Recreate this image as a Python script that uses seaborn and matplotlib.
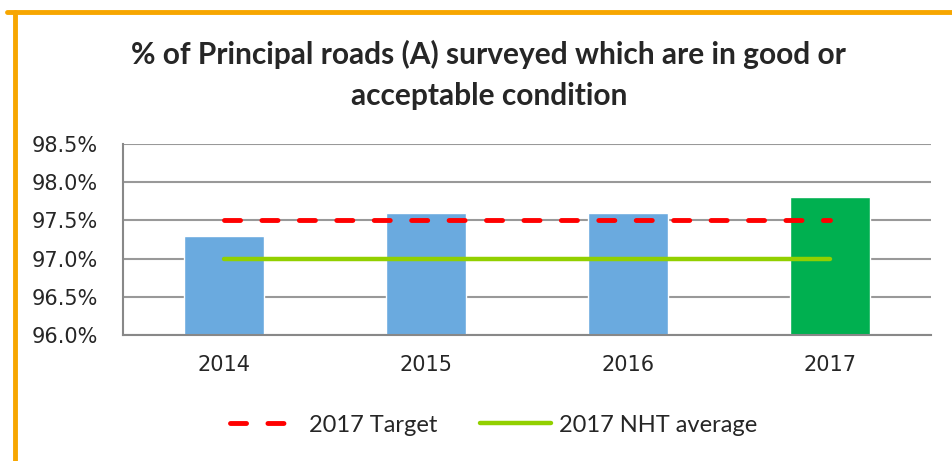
import numpy as np
import matplotlib.pyplot as plt
import seaborn as sns
from matplotlib.lines import Line2D

years = ['2014', '2015', '2016', '2017']
pct_good = [97.3, 97.6, 97.6, 97.8]
target_2017 = [97.5, 97.5, 97.5, 97.5]
nht_avg_2017 = [97.0, 97.0, 97.0, 97.0]
bar_colors = ['#6AAADF', '#6AAADF', '#6AAADF', '#00B050']
y_ticks = [96.0, 96.5, 97.0, 97.5, 98.0, 98.5]

sns.set_theme(style="white")
plt.rcParams['font.family'] = ['DejaVu Sans']

fig = plt.figure(figsize=(9.53, 4.61), dpi=100)
ax = fig.add_axes([0.129, 0.273, 0.848, 0.415])

sns.barplot(x=years, y=pct_good, hue=years, palette=bar_colors, width=0.4,
            legend=False, saturation=1, ax=ax, zorder=2)

pos = np.arange(len(years))
ax.plot(pos, target_2017, color='#FF0000', lw=3.5, dashes=(3.3, 4.4),
        dash_capstyle='round', solid_capstyle='round', zorder=4, label='2017 Target')
ax.plot(pos, nht_avg_2017, color='#92D000', lw=3.2, solid_capstyle='round',
        zorder=3, label='2017 NHT average')

ax.set_ylim(96.0, 98.5)
ax.set_xlim(-0.5, 3.5)
ax.set_yticks(y_ticks)
ax.set_yticklabels([f'{v:.1f}%' for v in y_ticks], fontsize=15)
ax.set_xticks(pos)
ax.set_xticklabels(years, fontsize=15)
ax.set_xticks([-0.5, 0.5, 1.5, 2.5, 3.5], minor=True)
ax.tick_params(axis='x', which='major', length=0, pad=14)
ax.tick_params(axis='x', which='minor', length=7, width=1.5, color='#888888', direction='out')
ax.tick_params(axis='y', length=8, width=1.5, color='#888888', direction='out', pad=10)
ax.grid(axis='y', color='#999999', lw=1.5, zorder=0)
ax.set_axisbelow(True)
ax.set_xlabel('')
ax.set_ylabel('')
for s in ['top', 'right']:
    ax.spines[s].set_visible(False)
for s in ['left', 'bottom']:
    ax.spines[s].set_color('#888888')
    ax.spines[s].set_linewidth(1.5)

fig.text(0.513, 0.837, '% of Principal roads (A) surveyed which are in good or\nacceptable condition',
         ha='center', va='center', fontsize=21.5, fontweight='bold', family=['Lato', 'DejaVu Sans'],
         linespacing=1.55)

leg = fig.legend(loc='center', bbox_to_anchor=(0.518, 0.078), ncol=2, frameon=False,
                 prop={'family': ['Lato', 'DejaVu Sans'], 'size': 17},
                 handlelength=3.0, columnspacing=1.8, handletextpad=0.35)

orange = '#F7A600'
fig.add_artist(Line2D([0.007, 1.0], [0.974, 0.974], color=orange, lw=3.5, transform=fig.transFigure))
fig.add_artist(Line2D([0.016, 0.016], [0.0, 0.974], color=orange, lw=3.5, transform=fig.transFigure))

fig.savefig('out.png', dpi=100)
